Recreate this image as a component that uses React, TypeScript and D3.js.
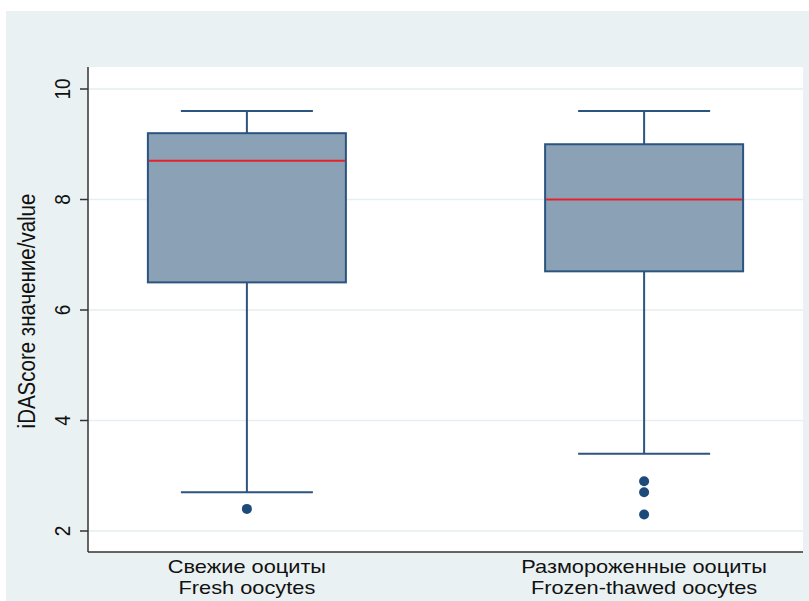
import React from "react";
import * as d3 from "d3";

const categoriesRu = ["Свежие ооциты", "Размороженные ооциты"];
const categoriesEn = ["Fresh oocytes", "Frozen-thawed oocytes"];
const whiskerLow = [2.7, 3.4];
const q1 = [6.5, 6.7];
const median = [8.7, 8.0];
const q3 = [9.2, 9.0];
const whiskerHigh = [9.6, 9.6];
const outliers = [[2.4], [2.9, 2.7, 2.3]];
const yTicks = [2, 4, 6, 8, 10];
const yTitle = "iDAScore значение/value";

export default function App() {
  const W = 809, H = 601;
  const left = 88, right = 803, top = 67, bottom = 552;
  const y = d3.scaleLinear().domain([2, 10]).range([531, 89]);
  const x = d3.scalePoint<number>().domain([0, 1]).range([left, right]).padding(0.4);
  const boxW = 198;
  const capW = 132;
  const font = "Arial, 'Liberation Sans', sans-serif";
  const stroke = "#2b5480";
  const sx = 1.15;
  return (
    <svg width={W} height={H} style={{ position: "absolute", left: 0, top: 0 }}>
      <rect x={6} y={11} width={W - 6} height={H - 11} fill="#eaf1f3" />
      <rect x={left} y={top} width={right - left} height={bottom - top} fill="#ffffff" />
      {yTicks.map((t) => (
        <line key={"g" + t} x1={left} x2={right} y1={y(t)} y2={y(t)} stroke="#e6eef1" strokeWidth={1.5} />
      ))}
      {categoriesRu.map((_, i) => {
        const cx = x(i)!;
        return (
          <g key={i}>
            <line x1={cx} x2={cx} y1={y(whiskerHigh[i])} y2={y(q3[i])} stroke={stroke} strokeWidth={2} />
            <line x1={cx} x2={cx} y1={y(q1[i])} y2={y(whiskerLow[i])} stroke={stroke} strokeWidth={2} />
            <line x1={cx - capW / 2} x2={cx + capW / 2} y1={y(whiskerHigh[i])} y2={y(whiskerHigh[i])} stroke={stroke} strokeWidth={2} />
            <line x1={cx - capW / 2} x2={cx + capW / 2} y1={y(whiskerLow[i])} y2={y(whiskerLow[i])} stroke={stroke} strokeWidth={2} />
            <rect x={cx - boxW / 2} y={y(q3[i])} width={boxW} height={y(q1[i]) - y(q3[i])} fill="#8ba2b6" stroke={stroke} strokeWidth={2} />
            <line x1={cx - boxW / 2 + 1} x2={cx + boxW / 2 - 1} y1={y(median[i])} y2={y(median[i])} stroke="#e8202a" strokeWidth={2} />
            {outliers[i].map((o, j) => (
              <circle key={j} cx={cx} cy={y(o)} r={5} fill="#1d4a78" />
            ))}
          </g>
        );
      })}
      <line x1={left} x2={left} y1={top} y2={bottom} stroke="#333" strokeWidth={1.5} />
      <line x1={left} x2={right} y1={bottom} y2={bottom} stroke="#333" strokeWidth={1.5} />
      {yTicks.map((t) => (
        <g key={"t" + t}>
          <line x1={left - 8} x2={left} y1={y(t)} y2={y(t)} stroke="#333" strokeWidth={1.5} />
          <text transform={`translate(70,${y(t)}) scale(${sx},1) rotate(-90)`} textAnchor="middle" fontFamily={font} fontSize={19} fill="#111">
            {t}
          </text>
        </g>
      ))}
      <text transform={`translate(35,311) scale(${sx},1) rotate(-90)`} textAnchor="middle" fontFamily={font} fontSize={20.5} fill="#111">
        {yTitle}
      </text>
      {categoriesRu.map((c, i) => (
        <g key={"x" + i}>
          <text transform={`translate(${x(i)!},573) scale(1.19,1)`} textAnchor="middle" fontFamily={font} fontSize={18.3} fill="#111">{c}</text>
          <text transform={`translate(${x(i)!},594) scale(1.19,1)`} textAnchor="middle" fontFamily={font} fontSize={18.3} fill="#111">{categoriesEn[i]}</text>
        </g>
      ))}
    </svg>
  );
}
